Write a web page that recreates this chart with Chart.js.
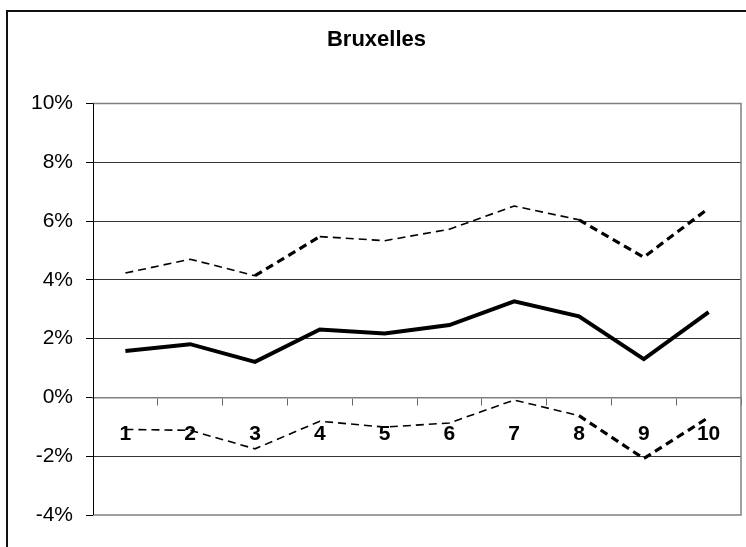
<!DOCTYPE html>
<html>
<head>
<meta charset="utf-8">
<script src="https://cdn.jsdelivr.net/npm/chart.js@4/dist/chart.umd.min.js"></script>
<style>
  html, body { margin: 0; padding: 0; background: #fff; }
  #wrap { width: 746px; height: 547px; }
</style>
</head>
<body>
<div id="wrap"><canvas id="chart"></canvas></div>
<script>
// ── Data ──────────────────────────────────
const categories = ['1', '2', '3', '4', '5', '6', '7', '8', '9', '10'];
const central = [1.58, 1.81, 1.21, 2.31, 2.17, 2.46, 3.27, 2.76, 1.30, 2.90];
const upper   = [4.23, 4.70, 4.14, 5.47, 5.33, 5.72, 6.51, 6.04, 4.77, 6.43];
const lower   = [-1.09, -1.12, -1.75, -0.81, -1.01, -0.87, -0.09, -0.62, -2.08, -0.68];
const yMin = -4, yMax = 10, yStep = 2;

const FONT = "'Liberation Sans', Arial, sans-serif";

// segments that render heavier in the original picture
const heavyUpper = [2, 7, 8];
const heavyLower = [7, 8];

// outer frame + plot-area border
const framePlugin = {
  id: 'frame',
  beforeDraw(chart) {
    const { ctx } = chart;
    ctx.save();
    ctx.fillStyle = '#fff';
    ctx.fillRect(0, 0, chart.width, chart.height);
    ctx.strokeStyle = '#111';
    ctx.lineWidth = 2;
    ctx.strokeRect(7, 11, 800, 600);
    ctx.restore();
  },
  beforeDatasetsDraw(chart) {
    const { ctx, chartArea: a } = chart;
    ctx.save();
    ctx.strokeStyle = '#808080';
    ctx.lineWidth = 1.5;
    ctx.beginPath();
    ctx.moveTo(a.left, a.top);
    ctx.lineTo(a.right, a.top);
    ctx.lineTo(a.right, a.bottom);
    ctx.lineTo(a.left, a.bottom);
    ctx.stroke();
    ctx.strokeStyle = '#000';
    ctx.lineWidth = 1;
    ctx.beginPath();
    ctx.moveTo(a.left + 0.5, a.top);
    ctx.lineTo(a.left + 0.5, a.bottom);
    ctx.stroke();
    ctx.restore();
  }
};

const dashed = (data, heavy) => ({
  data,
  borderColor: '#000',
  borderWidth: 1.6,
  borderDash: [8, 5],
  pointRadius: 0,
  tension: 0,
  fill: false,
  segment: {
    borderWidth: c => heavy.includes(c.p0DataIndex) ? 3.2 : 1.6
  }
});

new Chart(document.getElementById('chart'), {
  type: 'line',
  data: {
    labels: categories,
    datasets: [
      { data: central, borderColor: '#000', borderWidth: 4, pointRadius: 0, tension: 0, fill: false },
      dashed(upper, heavyUpper),
      dashed(lower, heavyLower)
    ]
  },
  plugins: [framePlugin],
  options: {
    responsive: true,
    maintainAspectRatio: false,
    animation: false,
    layout: { padding: { left: 12, right: 5, top: 0, bottom: 32 } },
    plugins: {
      legend: { display: false },
      tooltip: { enabled: false },
      title: {
        display: true,
        text: 'Bruxelles',
        color: '#000',
        font: { family: FONT, size: 22, weight: 'bold' },
        padding: { top: 27, bottom: 50 }
      }
    },
    scales: {
      x: {
        type: 'category',
        offset: true,
        position: { y: 0 },
        border: { display: true, color: '#808080', width: 1.5 },
        grid: { display: true, offset: true, drawOnChartArea: false, drawTicks: true, tickLength: 7, tickColor: '#666' },
        ticks: { color: '#000', padding: 17, maxRotation: 0, font: { family: FONT, size: 21, weight: 'bold' } }
      },
      y: {
        min: yMin,
        max: yMax,
        afterFit: s => { s.width = 81; },
        border: { display: false },
        grid: {
          color: c => (c.tick.value === yMin || c.tick.value === yMax || c.tick.value === 0) ? 'rgba(0,0,0,0)' : '#333',
          lineWidth: 1,
          drawTicks: true,
          tickLength: 7,
          tickColor: '#000'
        },
        ticks: {
          stepSize: yStep,
          padding: 13,
          color: '#000',
          font: { family: FONT, size: 21 },
          callback: v => v + '%'
        }
      }
    }
  }
});
</script>
</body>
</html>
